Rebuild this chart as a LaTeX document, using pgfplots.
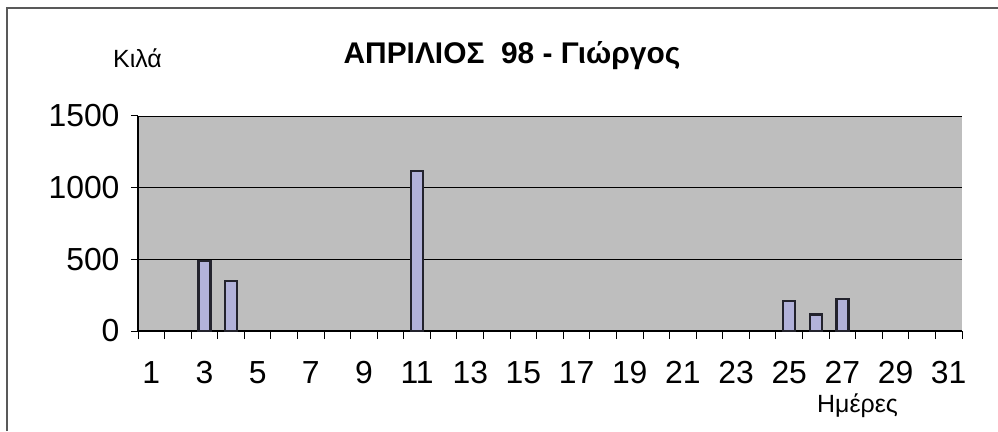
\documentclass[border=0pt]{standalone}
\usepackage{fontspec}
\setmainfont{Liberation Sans}
\usepackage{pgfplots}
\pgfplotsset{compat=1.18}
\definecolor{plotbg}{RGB}{190,190,190}
\definecolor{barfill}{RGB}{178,178,218}
\definecolor{barline}{RGB}{35,35,45}
\begin{document}
\begin{tikzpicture}[x=1bp,y=1bp]
\useasboundingbox (0,0) rectangle (998,431);
\draw[black!65, line width=1.2bp] (7,0) -- (7,423) -- (998,423);
\begin{axis}[
  at={(138bp,100bp)}, anchor=south west,
  scale only axis, width=824bp, height=215bp,
  xmin=0.5, xmax=31.5, ymin=0, ymax=1500,
  axis lines*=left,
  axis line style={black, line width=1.2bp},
  axis background/.style={fill=plotbg},
  ytick={0,500,1000,1500},
  ymajorgrids, grid style={black, line width=0.9bp},
  xtick={1,3,...,31},
  minor xtick={0.5,1.5,...,31.5},
  major x tick style={draw=none},
  tick align=outside,
  major tick length=7bp, minor tick length=8bp,
  tick style={black, line width=1bp},
  tick label style={font=\fontsize{32}{32}\selectfont},
  /pgf/number format/assume math mode=true,
  /pgf/number format/1000 sep={},
  xticklabel style={yshift=-20bp},
  yticklabel style={xshift=-8bp},
]
\addplot[ybar, bar width=12bp, fill=barfill, draw=barline, line width=2.2bp]
  coordinates {(3,490) (4,350) (11,1115) (25,210) (26,115) (27,222)};
\end{axis}
\node[font=\bfseries\fontsize{30}{34}\selectfont, anchor=base] at (512,368) {ΑΠΡΙΛΙΟΣ\ \ 98 - Γιώργος};
\node[font=\fontsize{25}{28}\selectfont, anchor=base west, inner sep=0pt] at (113,364) {Κιλά};
\node[font=\fontsize{25}{28}\selectfont, anchor=base west, inner sep=0pt] at (817,19) {Ημέρες};
\end{tikzpicture}
\end{document}
